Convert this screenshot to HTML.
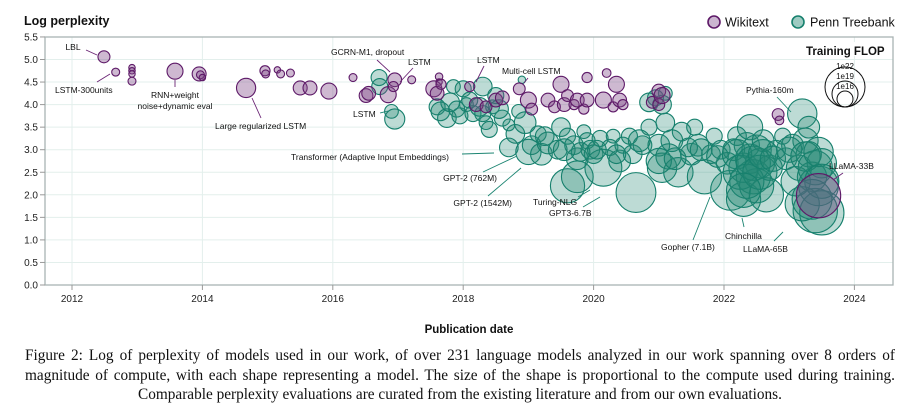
<!DOCTYPE html>
<html><head><meta charset="utf-8">
<style>
html,body{margin:0;padding:0;background:#fff;}
body{width:919px;height:415px;overflow:hidden;position:relative;font-family:"Liberation Sans",sans-serif;}
#caption{position:absolute;left:25px;top:346px;width:870px;font-family:"Liberation Serif",serif;font-size:15.3px;line-height:19.5px;color:#111;text-align:justify;text-align-last:center;}
</style></head>
<body>
<svg id="chart" width="919" height="345" style="position:absolute;left:0;top:0" font-family="Liberation Sans, sans-serif">
  <g id="grid"></g>
  <g id="bubbles"></g>
  <rect x="45" y="37" width="848" height="248" fill="none" stroke="#a9b3b3" stroke-width="1.3"/>
  <g id="axes"></g>
  <text x="24" y="25" font-size="12.5" font-weight="bold" fill="#111">Log perplexity</text>
  <text x="469" y="333" font-size="11.5" font-weight="bold" fill="#111" text-anchor="middle">Publication date</text>
  <g>
    <g>
      <circle cx="714" cy="22" r="6" fill="rgba(140,90,150,0.45)" stroke="#5e1a68" stroke-width="1.6"/>
      <text x="725" y="26.5" font-size="12.5" fill="#111">Wikitext</text>
    </g>
    <g>
      <circle cx="798" cy="22" r="6" fill="rgba(40,140,120,0.45)" stroke="#16806d" stroke-width="1.6"/>
      <text x="810" y="26.5" font-size="12.5" fill="#111">Penn Treebank</text>
    </g>
  </g>
  <g>
    <rect x="803" y="42" width="85" height="14" fill="#fff"/>
    <text x="806" y="55" font-size="11.5" font-weight="bold" fill="#111">Training FLOP</text>
    <circle cx="845" cy="87" r="20" fill="none" stroke="#111" stroke-width="1"/>
    <circle cx="845" cy="94" r="13" fill="none" stroke="#111" stroke-width="1"/>
    <circle cx="845" cy="99" r="8" fill="none" stroke="#111" stroke-width="1"/>
    <text x="845" y="69" font-size="8" text-anchor="middle" fill="#111">1e22</text>
    <text x="845" y="79" font-size="8" text-anchor="middle" fill="#111">1e19</text>
    <text x="845" y="89" font-size="8" text-anchor="middle" fill="#111">1e16</text>
  </g>
  <g id="annotations" font-size="8.5" fill="#111" stroke-width="0.9"></g>
</svg>
<div id="caption">Figure 2: Log of perplexity of models used in our work, of over 231 language models analyzed in our work spanning over 8 orders of magnitude of compute, with each shape representing a model. The size of the shape is proportional to the compute used during training. Comparable perplexity evaluations are curated from the existing literature and from our own evaluations.</div>
<script>
// ---- data ----
const xTicks = [2012, 2014, 2016, 2018, 2020, 2022, 2024];
const yTicks = [0, 0.5, 1, 1.5, 2, 2.5, 3, 3.5, 4, 4.5, 5, 5.5];
const wikiYear = [2012.49,2012.67,2012.92,2012.92,2012.92,2012.92,2013.58,2013.95,2013.97,2014.0,2014.67,2014.96,2014.97,2015.15,2015.2,2015.35,2015.5,2015.65,2015.94,2016.31,2016.51,2016.55,2016.85,2016.95,2016.93,2017.21,2017.63,2017.63,2017.55,2017.6,2017.66,2018.1,2018.2,2018.35,2018.5,2018.6,2018.86,2019.0,2019.05,2019.3,2019.4,2019.5,2019.55,2019.6,2019.7,2019.75,2019.85,2019.9,2019.9,2020.15,2020.2,2020.3,2020.35,2020.4,2020.45,2020.9,2021.0,2021.0,2021.05,2022.83,2022.85,2023.45];
const wikiPpl = [5.06,4.72,4.82,4.75,4.68,4.52,4.74,4.68,4.66,4.6,4.37,4.75,4.68,4.77,4.68,4.7,4.37,4.37,4.3,4.6,4.2,4.25,4.22,4.55,4.4,4.55,4.62,4.5,4.35,4.25,4.45,4.4,4.0,3.95,4.1,4.15,4.35,4.1,3.9,4.1,3.95,4.45,4.0,4.2,4.0,4.1,3.9,4.6,4.1,4.1,4.7,3.95,4.45,4.1,4.0,4.05,4.3,4.0,4.2,3.78,3.65,1.98];
const wikiFlop = [14.1,11.4,10,10,10,11.4,16,15.1,11.4,10,17.2,13,11.4,10,11.4,11.4,15.1,15.1,16,11.4,15,15,16,15,13,11.4,11,10,16,15,13,13,15,14,15,15,14,16,14,15,14,16,15,14,13,15,13,13,15,16,12,13,16,15,13,14,15,14,16,14,12,22.7];
const pennYear = [2016.71,2016.72,2016.9,2016.95,2017.6,2017.65,2017.75,2017.8,2017.9,2017.95,2017.85,2018.0,2018.05,2018.15,2018.25,2018.3,2018.35,2018.45,2018.5,2018.6,2018.7,2018.85,2018.9,2018.4,2018.8,2018.7,2019.0,2019.05,2019.15,2019.2,2019.3,2019.45,2019.5,2019.6,2019.7,2019.75,2019.85,2019.9,2019.95,2019.6,2019.75,2020.0,2020.1,2020.15,2020.25,2020.3,2020.4,2020.45,2020.55,2020.6,2020.65,2020.75,2020.85,2020.85,2020.95,2021.05,2021.1,2021.1,2021.0,2021.05,2021.15,2021.2,2021.3,2021.35,2021.5,2021.55,2021.6,2021.7,2021.8,2021.85,2021.95,2022.05,2022.1,2022.15,2022.2,2022.3,2022.3,2022.35,2022.4,2022.4,2022.45,2022.5,2022.5,2022.55,2022.6,2022.65,2022.7,2022.8,2022.9,2022.95,2023.05,2023.15,2023.2,2023.25,2023.3,2023.35,2023.4,2023.45,2023.5,2023.5,2023.2,2023.3,
 2018.1,2018.3,2018.55,2018.95,2019.25,2019.55,2019.8,2020.05,2020.35,2020.7,2021.0,2021.25,2021.45,2021.65,2021.9,2022.2,2022.25,2022.35,2022.45,2022.55,2022.6,2022.75,2023.0,2023.1,2023.25,2023.4,2023.45,2023.5,2023.35,2022.3];
const pennPpl = [4.6,4.4,3.85,3.68,3.95,3.85,3.7,4.05,3.9,3.75,4.4,4.35,4.0,3.8,3.95,4.4,3.6,3.95,4.2,3.7,3.55,3.85,4.55,3.45,3.35,3.05,2.95,3.1,3.35,2.9,3.15,3.0,3.5,3.3,3.1,2.8,3.4,3.2,3.0,2.2,2.4,2.9,3.25,2.6,3.05,3.3,2.75,3.1,3.3,2.9,2.05,3.1,3.5,4.05,4.15,4.0,4.25,3.6,3.1,2.6,2.85,3.2,2.5,3.4,2.9,3.5,3.1,2.4,2.9,3.3,3.0,2.7,2.1,3.0,3.3,2.6,1.9,3.1,2.8,3.5,2.4,3.0,2.2,2.7,3.2,2.0,2.6,3.0,3.3,2.8,3.1,2.6,3.8,3.2,2.9,2.4,1.65,2.2,2.7,1.6,1.8,3.5,
 4.1,3.8,3.9,3.6,3.3,3.0,2.95,3.0,2.9,3.2,2.75,2.8,3.05,3.0,2.85,2.9,2.5,2.3,2.7,2.5,2.9,2.8,3.0,2.3,2.85,2.6,2.95,2.3,1.9,2.1];
const pennFlop = [16,16,15,17.5,16,17,17,17,16,16,15,16,15,16,17,17,15,15,16,16,14,15,11,16,17,17,19,17,16,18,18,17,17,16,17,18,15,16,17,21,20.5,17,16,21.5,16,15,18,16,16,17,22,17,16,17,16,17,15,17,18,20,19,18,20,17,18,16,18,21,17,16,17,18,22,18,17,20,21,19,20,19,21,20,21,20,18,21,19,17,16,18,18,19,20,19,19,20,22.7,22,20,22.7,21,18,
 16,16,17,18,17,18,17,17,17,18,19,18,17,18,18,20,21,21,21,21,20,19,19,20,20,21,20,21,22,21];

// ---- scales ----
const X = y => 72 + (y - 2012) * 65.2;
const Y = v => 285 - v * 45.1;
const R = f => 8 * Math.pow(10, 0.066 * (f - 16));
const NS = "http://www.w3.org/2000/svg";
function mk(tag, attrs, parent){const e=document.createElementNS(NS,tag);for(const k in attrs)e.setAttribute(k,attrs[k]);parent.appendChild(e);return e;}

const grid = document.getElementById('grid');
const axes = document.getElementById('axes');
yTicks.forEach(v=>{
  const l = mk('line',{x1:45,x2:893,y1:Y(v),y2:Y(v),stroke:'#e3efec','stroke-width':1},grid);
  
  
  mk('line',{x1:40,x2:45,y1:Y(v),y2:Y(v),stroke:'#999'},axes);
  const t = mk('text',{x:38,y:Y(v)+3.5,'font-size':10,'text-anchor':'end',fill:'#222'},axes);
  t.textContent = v.toFixed(1);
  
  
});
xTicks.forEach(y=>{
  const l = mk('line',{x1:X(y),x2:X(y),y1:37,y2:285,stroke:'#e3efec','stroke-width':1},grid);
  
  
  mk('line',{x1:X(y),x2:X(y),y1:285,y2:290,stroke:'#999'},axes);
  const t = mk('text',{x:X(y),y:302,'font-size':10,'text-anchor':'middle',fill:'#222'},axes);
  t.textContent = y;
  
  
});

const bub = document.getElementById('bubbles');
pennYear.forEach((yr,i)=>{
  const c = mk('circle',{cx:X(yr),cy:Y(pennPpl[i]),r:R(pennFlop[i]),fill:'rgba(35,135,115,0.3)',stroke:'#16806d','stroke-width':1.1},bub);
  
  
});
wikiYear.forEach((yr,i)=>{
  const c = mk('circle',{cx:X(yr),cy:Y(wikiPpl[i]),r:R(wikiFlop[i]),fill:'rgba(125,70,135,0.38)',stroke:'#5e1a68','stroke-width':1.1},bub);
  
  
});

// annotations: [text, x, y, anchor, x1,y1,x2,y2, color]
const ann = [
 ["LBL",73,50,"middle",86,50,97,55,"#6a2474"],
 ["LSTM-300units",55,93,"start",97,82,110,74,"#6a2474"],
 ["RNN+weight",175,98,"middle",175,80,175,87,"#6a2474"],
 ["noise+dynamic eval",175,109,"middle",0,0,0,0,""],
 ["Large regularized LSTM",215,129,"start",252,98,261,118,"#6a2474"],
 ["GCRN-M1, dropout",331,55,"start",377,60,390,72,"#6a2474"],
 ["LSTM",408,65,"start",413,68,400,82,"#6a2474"],
 ["LSTM",353,117,"start",380,113,388,111,"#1b8471"],
 ["LSTM",477,63,"start",484,66,476,82,"#6a2474"],
 ["Multi-cell LSTM",502,74,"start",528,78,524,83,"#6a2474"],
 ["Transformer (Adaptive Input Embeddings)",291,160,"start",462,154,494,153,"#1b8471"],
 ["GPT-2 (762M)",497,181,"end",483,172,517,156,"#1b8471"],
 ["GPT-2 (1542M)",512,206,"end",488,196,521,168,"#1b8471"],
 ["Turing-NLG",533,205,"start",578,197,590,190,"#1b8471"],
 ["GPT3-6.7B",549,216,"start",583,207,600,197,"#1b8471"],
 ["Gopher (7.1B)",661,250,"start",693,240,710,197,"#1b8471"],
 ["Chinchilla",725,239,"start",744,227,742,218,"#1b8471"],
 ["LLaMA-65B",743,252,"start",774,241,783,232,"#1b8471"],
 ["LLaMA-33B",829,169,"start",843,173,833,180,"#6a2474"],
 ["Pythia-160m",746,93,"start",777,97,791,112,"#1b8471"]
];
const ag = document.getElementById('annotations');
ann.forEach(a=>{
  if(a[8]){
    const l = mk('line',{x1:a[4],y1:a[5],x2:a[6],y2:a[7],stroke:a[8]},ag);
    
    
  }
  const t = mk('text',{x:a[1],y:a[2],'text-anchor':a[3]},ag);
  t.textContent = a[0];
  
  
});
</script>
</body></html>
